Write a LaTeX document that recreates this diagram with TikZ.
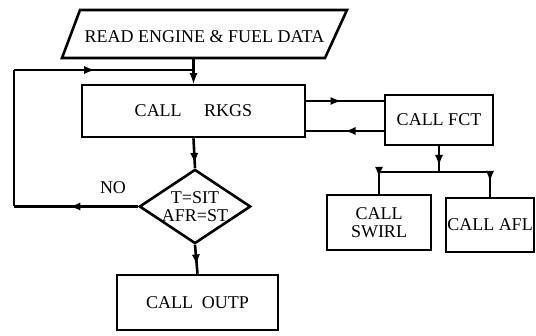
\documentclass[tikz,border=0pt]{standalone}
\usepackage{fontspec}
\setmainfont{Liberation Serif}
\usetikzlibrary{shapes.geometric,calc,decorations.markings}
\tikzset{
    box/.style={draw, rectangle, align=center},
    midarrow/.style={decoration={markings, mark=at position #1 with {\arrow{latex}}}, postaction={decorate}},
}
\begin{document}
\begin{tikzpicture}[x=1pt, y=-1pt, line width=2.6pt, font=\fontsize{18}{18}\selectfont]
    \useasboundingbox (0,0) rectangle (536,336);
    % 1. Khoi nhap du lieu (hinh binh hanh)
    \draw (80,10) -- (347,10) -- (325,58) -- (62,58) -- cycle;
    \node (read) at (204.5,37) {READ ENGINE \& FUEL DATA};
    \coordinate (readb) at (195,58);

    % 2. Cac khoi goi chuong trinh con
    \node[box, minimum width=223pt, minimum height=52pt] (rkgs) at (193.5,111) {CALL\quad\ RKGS};
    \node[box, minimum width=108pt, minimum height=50pt] (fct) at (439,120) {CALL FCT};
    \node[box, minimum width=104pt, minimum height=55pt, inner sep=0pt] (swirl) at (379,222.5) {CALL\\SWIRL};
    \node[box, minimum width=88pt, minimum height=54pt, inner sep=0pt] (afl) at (490,225) {CALL AFL};
    \node[draw, diamond, aspect=1.5, minimum width=110pt, minimum height=73pt, inner sep=0pt, align=center]
        (test) at (195,206.5) {T=SIT\\AFR=ST};
    \node[box, minimum width=161pt, minimum height=55pt] (outp) at (197.5,302.5) {CALL\ \ OUTP};
    \node (no) at (113,188) {NO};

    % 3. Vong lap quay lai
    \coordinate (lb) at (14,206.5);
    \coordinate (lt) at (14,70);
    \draw[-latex] (rkgs.north |- readb) -- (rkgs.north);
    \draw[midarrow=0.55] (test.west) -- (lb);
    \draw (lb) -- (lt);
    \draw[midarrow=0.45] (lt) -- (rkgs.north |- lt);

    % 4. Duong noi cac khoi
    \draw[midarrow=0.85] (rkgs.south) -- (test.north);
    \draw[midarrow=0.7] (test.south) -- (outp.north);
    \draw[midarrow=0.45] ($(rkgs.east)+(0,-10)$) -- (fct.west |- {$(rkgs.east)+(0,-10)$});
    \draw[midarrow=0.5] (fct.west |- {$(rkgs.east)+(0,20)$}) -- ($(rkgs.east)+(0,20)$);
    \coordinate (br) at (fct.south |- 0,172);
    \draw[midarrow=0.75] (fct.south) -- (br);
    \draw[midarrow=0.8] (br) -| (swirl.north);
    \draw[midarrow=0.8] (br) -| (afl.north);
\end{tikzpicture}
\end{document}
